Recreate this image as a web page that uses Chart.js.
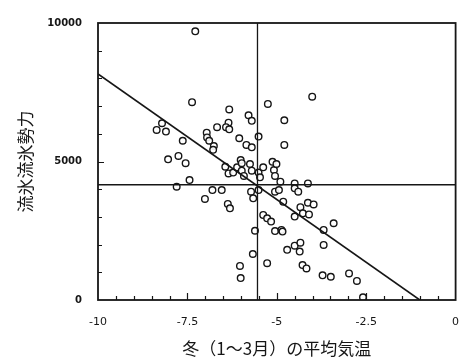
<!DOCTYPE html>
<html>
<head>
<meta charset="utf-8">
<script src="https://cdn.jsdelivr.net/npm/chart.js@4/dist/chart.umd.min.js"></script>
<style>
  body { margin: 0; background: #fff; }
</style>
</head>
<body>
<canvas id="chart" width="461" height="359"></canvas>
<script>
// winter (Jan-Mar) mean temperature vs drift ice strength
const temps = [
    -7.28, -7.37, -5.25, -4.01, -6.33, -5.79, -5.70, -4.79, -8.21, -6.35,
    -6.42, -6.33, -6.67, -8.36, -8.10, -6.96, -6.95, -6.89, -7.63, -5.51,
    -6.05, -5.85, -5.70, -6.76, -6.78, -4.79, -7.75, -8.04, -6.01, -5.12,
    -7.55, -7.44, -7.80, -6.80, -6.54, -7.01, -6.37, -6.31, -6.44, -6.35,
    -6.22, -6.11, -5.98, -5.98, -5.92, -5.75, -5.70, -5.51, -5.47, -5.38,
    -5.08, -5.05, -5.01, -5.72, -5.66, -5.51, -5.05, -5.38, -5.27, -5.16,
    -5.05, -5.61, -5.67, -5.27, -6.03, -6.01, -4.90, -4.50, -4.13, -4.94,
    -4.82, -4.50, -4.40, -4.13, -3.97, -4.34, -4.50, -4.27, -4.10, -3.41,
    -3.69, -4.87, -4.84, -3.69, -4.50, -4.34, -4.36, -4.71, -4.28, -4.17,
    -3.72, -3.49, -2.98, -2.76, -2.59
];
const forces = [
    9700, 7140, 7080, 7340, 6880, 6670, 6470, 6490, 6380, 6400,
    6240, 6160, 6240, 6140, 6080, 6040, 5870, 5750, 5750, 5900,
    5840, 5600, 5510, 5560, 5420, 5600, 5200, 5080, 5050, 4990,
    4940, 4330, 4090, 3970, 3970, 3650, 3470, 3310, 4810, 4570,
    4600, 4790, 4940, 4670, 4480, 4910, 4670, 4600, 4430, 4790,
    4690, 4480, 4910, 3910, 3670, 3970, 3910, 3070, 2950, 2830,
    2490, 2500, 1660, 1330, 1230, 790, 4270, 4210, 4210, 3970,
    3550, 4030, 3910, 3510, 3450, 3350, 3010, 3130, 3090, 2770,
    2530, 2530, 2470, 1990, 1960, 2070, 1750, 1810, 1260, 1140,
    890, 840, 960, 690, 100
];

// mean lines and regression line end points
const meanTemp = -5.54;
const meanForce = 4160;
const fitX = [-10, -1.0];
const fitY = [8160, 0];

const xTicks = [-10, -7.5, -5, -2.5, 0];
const yTicks = [0, 5000, 10000];

const INK = "#161616";

const points = temps.map((t, i) => ({ x: t, y: forces[i] }));

// frame + inward tick marks, like the printed figure
const framePlugin = {
    id: "frame",
    afterDatasetsDraw(chart) {
        const { ctx, chartArea: a, scales: { x, y } } = chart;
        ctx.save();
        ctx.strokeStyle = INK;
        ctx.lineWidth = 1.2;
        ctx.beginPath();
        for (let v = 1000; v < 10000; v += 1000) {
            const py = Math.round(y.getPixelForValue(v)) + 0.5;
            const len = v % 5000 === 0 ? 6 : 4;
            ctx.moveTo(a.left, py);
            ctx.lineTo(a.left + len, py);
        }
        for (let v = -9.5; v < 0; v += 0.5) {
            const px = Math.round(x.getPixelForValue(v)) + 0.5;
            const len = Math.abs(v % 2.5) < 0.01 ? 7 : 4;
            ctx.moveTo(px, a.bottom);
            ctx.lineTo(px, a.bottom - len);
        }
        ctx.stroke();
        ctx.lineWidth = 1.8;
        ctx.strokeRect(a.left, a.top, a.right - a.left, a.bottom - a.top);
        ctx.restore();
    }
};

new Chart(document.getElementById("chart"), {
    type: "scatter",
    data: {
        datasets: [
            {
                data: [{ x: fitX[0], y: fitY[0] }, { x: fitX[1], y: fitY[1] }],
                showLine: true,
                borderColor: INK,
                borderWidth: 1.6,
                pointRadius: 0
            },
            {
                data: [{ x: meanTemp, y: 0 }, { x: meanTemp, y: 10000 }],
                showLine: true,
                borderColor: INK,
                borderWidth: 1.3,
                pointRadius: 0
            },
            {
                data: [{ x: -10, y: meanForce }, { x: 0, y: meanForce }],
                showLine: true,
                borderColor: INK,
                borderWidth: 1.3,
                pointRadius: 0
            },
            {
                data: points,
                pointStyle: "circle",
                pointRadius: 3.3,
                pointBorderWidth: 1.4,
                pointBorderColor: INK,
                pointBackgroundColor: "rgba(255,255,255,0.9)"
            }
        ]
    },
    options: {
        responsive: false,
        animation: false,
        layout: { padding: { top: 23, right: 5, left: 0, bottom: 0 } },
        plugins: {
            legend: { display: false },
            tooltip: { enabled: false }
        },
        scales: {
            x: {
                type: "linear",
                min: -10,
                max: 0,
                afterBuildTicks: (scale) => { scale.ticks = xTicks.map(v => ({ value: v })); },
                afterFit: (scale) => {
                    scale.height = 59;
                    // don't let the label padding shrink the plot
                    scale.paddingLeft = 0;
                    scale.paddingRight = 0;
                },
                grid: { display: false, drawTicks: false },
                border: { display: false },
                ticks: {
                    padding: 16,
                    color: INK,
                    font: { family: "DejaVu Sans", size: 11 }
                },
                title: {
                    display: true,
                    text: "冬（1〜3月）の平均気温",
                    color: INK,
                    padding: { top: 0, bottom: 0 },
                    font: { family: "Noto Sans CJK JP", size: 17 }
                }
            },
            y: {
                min: 0,
                max: 10000,
                afterBuildTicks: (scale) => { scale.ticks = yTicks.map(v => ({ value: v })); },
                afterFit: (scale) => { scale.width = 98; },
                grid: { display: false, drawTicks: false },
                border: { display: false },
                ticks: {
                    padding: 16,
                    color: INK,
                    font: { family: "DejaVu Sans", size: 10, weight: "bold" },
                    callback: (value) => String(value)
                },
                title: {
                    display: true,
                    text: "流氷流氷勢力",
                    color: INK,
                    padding: { top: 15, bottom: 0 },
                    font: { family: "Noto Sans CJK JP", size: 17 }
                }
            }
        }
    },
    plugins: [framePlugin]
});
</script>
</body>
</html>
